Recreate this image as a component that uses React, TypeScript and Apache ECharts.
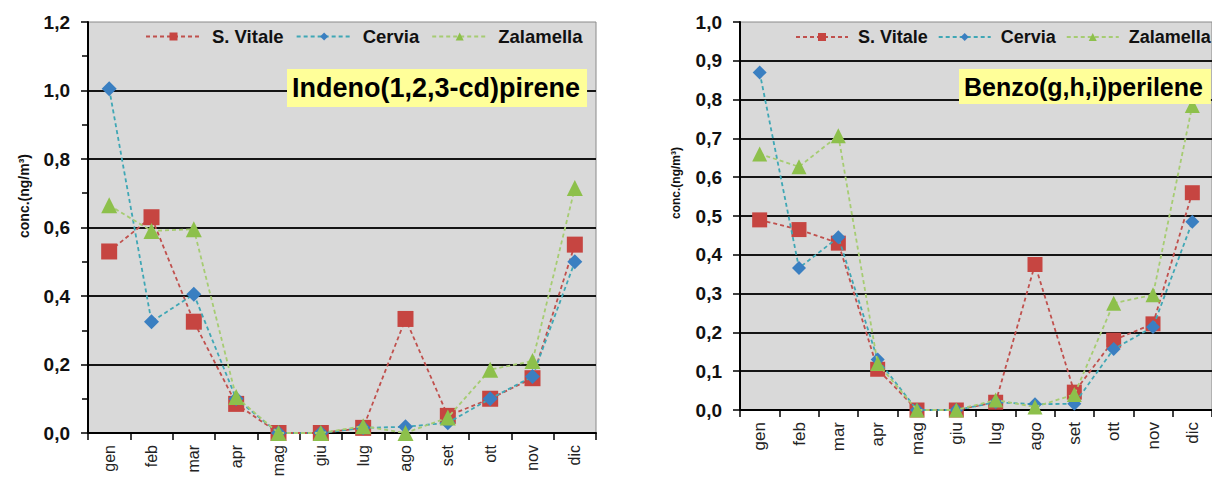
import React, { useEffect, useRef } from 'react';
import * as echarts from 'echarts';

const months = ['gen', 'feb', 'mar', 'apr', 'mag', 'giu', 'lug', 'ago', 'set', 'ott', 'nov', 'dic'];
const seriesNames = ['S. Vitale', 'Cervia', 'Zalamella'];

const indenoVitale = [0.53, 0.63, 0.325, 0.085, 0, 0, 0.015, 0.333, 0.05, 0.1, 0.16, 0.55];
const indenoCervia = [1.005, 0.325, 0.405, 0.1, 0, 0, 0.015, 0.018, 0.03, 0.1, 0.165, 0.5];
const indenoZalamella = [0.665, 0.59, 0.595, 0.105, 0, 0, 0.02, 0.0, 0.045, 0.185, 0.21, 0.715];

const benzoVitale = [0.49, 0.465, 0.43, 0.105, 0, 0, 0.02, 0.375, 0.046, 0.18, 0.222, 0.56];
const benzoCervia = [0.87, 0.366, 0.445, 0.13, 0, 0, 0.02, 0.015, 0.016, 0.157, 0.214, 0.485];
const benzoZalamella = [0.66, 0.627, 0.707, 0.12, 0, 0, 0.026, 0.008, 0.04, 0.275, 0.297, 0.785];

const titles = ['Indeno(1,2,3-cd)pirene', 'Benzo(g,h,i)perilene'];
const axisName = 'conc.(ng/m³)';

const FONT = '"Liberation Sans", Arial, sans-serif';

const styles = [
  { symbol: 'rect', line: '#c0504d', fill: '#c64541' },
  { symbol: 'diamond', line: '#3fa7b5', fill: '#3a7fc1' },
  { symbol: 'triangle', line: '#a6cc72', fill: '#8dc04b' },
];

const fmt = (v: number) => v.toFixed(1).replace('.', ',');

function makeSeries(data: number[], idx: number, axis: number, sizes: number[]) {
  const s = styles[idx];
  return {
    type: 'line',
    name: seriesNames[idx],
    xAxisIndex: axis,
    yAxisIndex: axis,
    data,
    symbol: s.symbol,
    symbolSize: sizes[idx],
    showAllSymbol: true,
    lineStyle: { color: s.line, width: 1.8, type: [4, 3] },
    itemStyle: { color: s.fill, borderWidth: 0 },
    emphasis: { disabled: true },
    z: 2 + idx,
  };
}

function xAxis(gridIndex: number, fontSize: number) {
  return {
    gridIndex,
    type: 'category',
    data: months,
    boundaryGap: true,
    axisLine: { show: true, lineStyle: { color: '#000', width: 2 } },
    axisTick: { show: true, length: 7, lineStyle: { color: '#000', width: 1.5 } },
    axisLabel: { rotate: 90, fontSize, color: '#222', margin: 12, fontFamily: FONT },
    splitLine: { show: false },
  };
}

function yAxis(gridIndex: number, max: number, interval: number, minor: boolean) {
  return {
    gridIndex,
    type: 'value',
    min: 0,
    max,
    interval,
    axisLine: { show: true, lineStyle: { color: '#000', width: 2 } },
    axisTick: { show: true, length: 7, lineStyle: { color: '#000', width: 1.5 } },
    minorTick: { show: minor, splitNumber: 2, length: 6, lineStyle: { color: '#000', width: 1.5 } },
    axisLabel: {
      formatter: fmt,
      fontSize: 19,
      fontWeight: 'bold',
      color: '#111',
      margin: 18,
      fontFamily: FONT,
    },
    splitLine: { show: true, showMaxLine: false, lineStyle: { color: '#151515', width: 2 } },
  };
}

export default function App() {
  const ref = useRef<HTMLDivElement>(null);

  useEffect(() => {
    const chart = echarts.init(ref.current!, null, { renderer: 'svg' });
    const option: any = {
      animation: false,
      backgroundColor: '#ffffff',
      textStyle: { fontFamily: FONT },
      grid: [
        { left: 88, top: 22, width: 508, height: 411, show: true, backgroundColor: '#d9d9d9', borderColor: '#8a8a8a', borderWidth: 1 },
        { left: 740, top: 22, width: 481, height: 388, show: true, backgroundColor: '#d9d9d9', borderColor: '#8a8a8a', borderWidth: 1 },
      ],
      xAxis: [xAxis(0, 16), xAxis(1, 17)],
      yAxis: [yAxis(0, 1.2, 0.2, true), yAxis(1, 1.0, 0.1, false)],
      legend: [
        {
          left: 145,
          top: 27,
          width: 470,
          padding: 0,
          itemWidth: 55,
          itemHeight: 10,
          itemGap: 12,
          data: seriesNames,
          selectedMode: false,
          textStyle: { fontSize: 18.5, fontWeight: 'bold', color: '#111', fontFamily: FONT, padding: [0, 0, 0, 6] },
        },
        {
          left: 795,
          top: 28,
          width: 470,
          padding: 0,
          itemWidth: 52,
          itemHeight: 10,
          itemGap: 10,
          data: seriesNames,
          selectedMode: false,
          textStyle: { fontSize: 18, fontWeight: 'bold', color: '#111', fontFamily: FONT, padding: [0, 0, 0, 5] },
        },
      ],
      title: [
        {
          text: titles[0],
          left: 287,
          top: 69,
          backgroundColor: '#ffff99',
          padding: [5, 7, 5, 5],
          textStyle: { fontSize: 27, fontWeight: 'bold', color: '#000', fontFamily: FONT, lineHeight: 28 },
        },
        {
          text: titles[1],
          left: 959,
          top: 69,
          backgroundColor: '#ffff99',
          padding: [5, 8, 5, 5],
          textStyle: { fontSize: 25, fontWeight: 'bold', color: '#000', fontFamily: FONT, lineHeight: 25 },
        },
      ],
      graphic: [
        {
          type: 'text',
          x: 24,
          y: 196,
          rotation: Math.PI / 2,
          style: {
            text: axisName,
            font: 'bold 14px "Liberation Sans", Arial, sans-serif',
            fill: '#111',
            align: 'center',
            verticalAlign: 'middle',
          },
        },
        {
          type: 'text',
          x: 676,
          y: 183,
          rotation: Math.PI / 2,
          style: {
            text: axisName,
            font: 'bold 12px "Liberation Sans", Arial, sans-serif',
            fill: '#111',
            align: 'center',
            verticalAlign: 'middle',
          },
        },
      ],
      series: [
        makeSeries(indenoVitale, 0, 0, [16, 15, 16]),
        makeSeries(indenoCervia, 1, 0, [16, 15, 16]),
        makeSeries(indenoZalamella, 2, 0, [16, 15, 16]),
        makeSeries(benzoVitale, 0, 1, [15, 14, 15]),
        makeSeries(benzoCervia, 1, 1, [15, 14, 15]),
        makeSeries(benzoZalamella, 2, 1, [15, 14, 15]),
      ],
    };
    chart.setOption(option);
    return () => chart.dispose();
  }, []);

  return (
    <div
      ref={ref}
      style={{ position: 'absolute', left: 0, top: 0, width: 1212, height: 480, background: '#fff' }}
    />
  );
}
